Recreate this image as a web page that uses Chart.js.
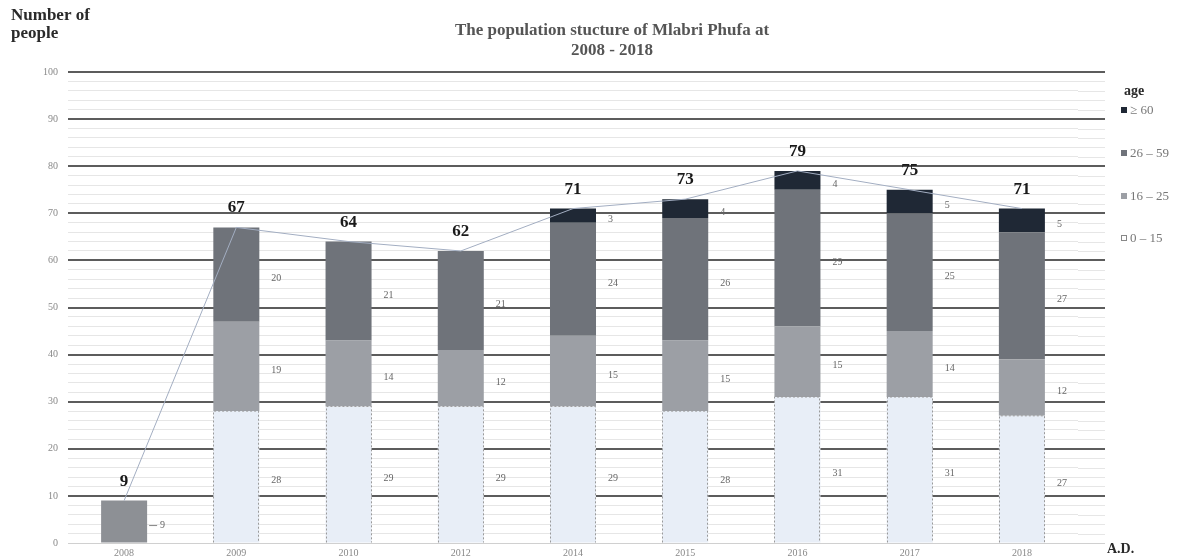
<!DOCTYPE html>
<html>
<head>
<meta charset="utf-8">
<script src="https://cdn.jsdelivr.net/npm/chart.js@4.4.0/dist/chart.umd.min.js"></script>
<style>
  html, body { margin: 0; padding: 0; background: #fff; }
  #wrap { width: 1182px; height: 559px; }
</style>
</head>
<body>
<div id="wrap"><canvas id="popChart" width="1182" height="559"></canvas></div>
<script>
// data
const years = ['2008', '2009', '2010', '2012', '2014', '2015', '2016', '2017', '2018'];
const noBreakdown = [9, null, null, null, null, null, null, null, null];
const age0to15 = [null, 28, 29, 29, 29, 28, 31, 31, 27];
const age16to25 = [null, 19, 14, 12, 15, 15, 15, 14, 12];
const age26to59 = [null, 20, 21, 21, 24, 26, 29, 25, 27];
const age60plus = [null, null, null, null, 3, 4, 4, 5, 5];
const totals = [9, 67, 64, 62, 71, 73, 79, 75, 71];
const yMax = 100;

const SERIF = '"Liberation Serif", "DejaVu Serif", serif';

const legendItems = [
    { text: '\u2265 60', color: '#1f2835', y: 110 },
    { text: '26 \u2013 59', color: '#6f737a', y: 153 },
    { text: '16 \u2013 25', color: '#9c9fa5', y: 196 },
    { text: '0 \u2013 15', color: '#ffffff', y: 238, outline: true }
];

const extrasPlugin = {
    id: 'extras',
    beforeDatasetsDraw(chart) {
        // the gridlines run on a little past the last category
        const ctx = chart.ctx, ys = chart.scales.y, area = chart.chartArea;
        ctx.save();
        ys.ticks.forEach(function(t) {
            const y = ys.getPixelForValue(t.value);
            const major = t.value % 10 === 0 && t.value !== 0;
            ctx.strokeStyle = t.value === 0 ? '#d0d0d0' : (major ? '#5c5c5c' : '#e6e6e6');
            ctx.lineWidth = major ? 2 : 1;
            ctx.beginPath();
            ctx.moveTo(area.right, Math.round(y) + (major ? 0 : 0.5));
            ctx.lineTo(area.right + 27, Math.round(y) + (major ? 0 : 0.5));
            ctx.stroke();
        });
        ctx.restore();
    },
    afterDatasetsDraw(chart) {
        const ctx = chart.ctx;
        const xs = chart.scales.x, ys = chart.scales.y;
        ctx.save();

        // dashed outline around the 0-15 bars
        const m0 = chart.getDatasetMeta(1);
        ctx.strokeStyle = '#9a9a9a';
        ctx.lineWidth = 1;
        ctx.setLineDash([2, 2]);
        m0.data.forEach(function(el, i) {
            if (age0to15[i] == null) return;
            const left = Math.round(el.x - el.width / 2), right = Math.round(el.x + el.width / 2);
            ctx.beginPath();
            ctx.moveTo(left + 0.5, el.base);
            ctx.lineTo(left + 0.5, el.y);
            ctx.lineTo(right - 0.5, el.y);
            ctx.lineTo(right - 0.5, el.base);
            ctx.stroke();
        });
        ctx.setLineDash([]);

        // segment values to the right of each bar
        ctx.font = '10px ' + SERIF;
        ctx.fillStyle = '#666';
        ctx.textAlign = 'left';
        ctx.textBaseline = 'middle';
        [0, 1, 2, 3, 4].forEach(function(di) {
            const meta = chart.getDatasetMeta(di);
            const vals = chart.data.datasets[di].data;
            meta.data.forEach(function(el, i) {
                if (vals[i] == null) return;
                const xr = el.x + el.width / 2;
                const ym = (el.y + el.base) / 2 + 4;
                if (di === 0) {
                    ctx.strokeStyle = '#888';
                    ctx.beginPath();
                    ctx.moveTo(xr + 2, ym);
                    ctx.lineTo(xr + 10, ym);
                    ctx.stroke();
                    ctx.fillText(vals[i], xr + 13, ym);
                } else {
                    ctx.fillText(vals[i], xr + 12, ym);
                }
            });
        });

        // totals above the bars
        ctx.font = 'bold 17px ' + SERIF;
        ctx.fillStyle = '#1a1a1a';
        ctx.textAlign = 'center';
        ctx.textBaseline = 'alphabetic';
        totals.forEach(function(t, i) {
            ctx.fillText(t, xs.getPixelForValue(i), ys.getPixelForValue(t) - 15);
        });
        ctx.restore();
    },
    afterDraw(chart) {
        const ctx = chart.ctx;
        ctx.save();
        ctx.textBaseline = 'alphabetic';

        // axis titles
        ctx.fillStyle = '#2a2a2a';
        ctx.font = 'bold 17px ' + SERIF;
        ctx.textAlign = 'left';
        ctx.fillText('Number of', 11, 20);
        ctx.fillText('people', 11, 38);
        ctx.font = 'bold 14px ' + SERIF;
        ctx.fillText('A.D.', 1107, 553);

        // chart title
        ctx.fillStyle = '#555';
        ctx.font = 'bold 17px ' + SERIF;
        ctx.textAlign = 'center';
        ctx.fillText('The population stucture of Mlabri Phufa at', 612, 35);
        ctx.fillText('2008 - 2018', 612, 55);

        // legend
        ctx.textAlign = 'left';
        ctx.fillStyle = '#2a2a2a';
        ctx.font = 'bold 14px ' + SERIF;
        ctx.fillText('age', 1124, 95);
        ctx.font = '13px ' + SERIF;
        legendItems.forEach(function(it) {
            ctx.fillStyle = it.color;
            ctx.fillRect(1121, it.y - 3, 6, 6);
            if (it.outline) {
                ctx.strokeStyle = '#888';
                ctx.lineWidth = 1;
                ctx.strokeRect(1121.5, it.y - 2.5, 5, 5);
            }
            ctx.fillStyle = '#777';
            ctx.fillText(it.text, 1130, it.y + 4);
        });
        ctx.restore();
    }
};

const ctx = document.getElementById('popChart').getContext('2d');
new Chart(ctx, {
    type: 'bar',
    data: {
        labels: years,
        datasets: [
            { label: 'total only', data: noBreakdown, backgroundColor: '#8d9095', order: 1 },
            { label: '0 - 15', data: age0to15, backgroundColor: '#e8eef7', order: 1 },
            { label: '16 - 25', data: age16to25, backgroundColor: '#9c9fa5', order: 1 },
            { label: '26 - 59', data: age26to59, backgroundColor: '#6f737a', order: 1 },
            { label: '\u2265 60', data: age60plus, backgroundColor: '#1f2835', order: 1 },
            {
                type: 'line', label: 'total', data: totals, stack: 'total',
                borderColor: '#a3aec2', borderWidth: 1, pointRadius: 0,
                tension: 0, fill: false, order: 0
            }
        ]
    },
    options: {
        responsive: false,
        animation: false,
        layout: { padding: { left: 0, right: 104, top: 72, bottom: 0 } },
        datasets: { bar: { barPercentage: 0.41, categoryPercentage: 1 } },
        plugins: { legend: { display: false }, tooltip: { enabled: false } },
        scales: {
            x: {
                stacked: true,
                grid: { display: false, drawTicks: false },
                border: { display: true, color: '#d0d0d0' },
                ticks: { color: '#888', font: { family: SERIF, size: 10 }, padding: 4, maxRotation: 0 },
                afterFit: function(scale) { scale.height = 14; }
            },
            y: {
                stacked: true,
                min: 0,
                max: yMax,
                border: { display: false },
                grid: {
                    drawTicks: false,
                    color: function(c) {
                        if (c.tick.value === 0) return '#d0d0d0';
                        return c.tick.value % 10 === 0 ? '#5c5c5c' : '#e6e6e6';
                    },
                    lineWidth: function(c) {
                        return (c.tick.value % 10 === 0 && c.tick.value !== 0) ? 2 : 1;
                    }
                },
                ticks: {
                    stepSize: 2,
                    autoSkip: false,
                    color: '#888',
                    font: { family: SERIF, size: 10 },
                    padding: 10,
                    callback: function(v) { return v % 10 === 0 ? v : ''; }
                },
                afterFit: function(scale) { scale.width = 68; }
            }
        }
    },
    plugins: [extrasPlugin]
});
</script>
</body>
</html>
